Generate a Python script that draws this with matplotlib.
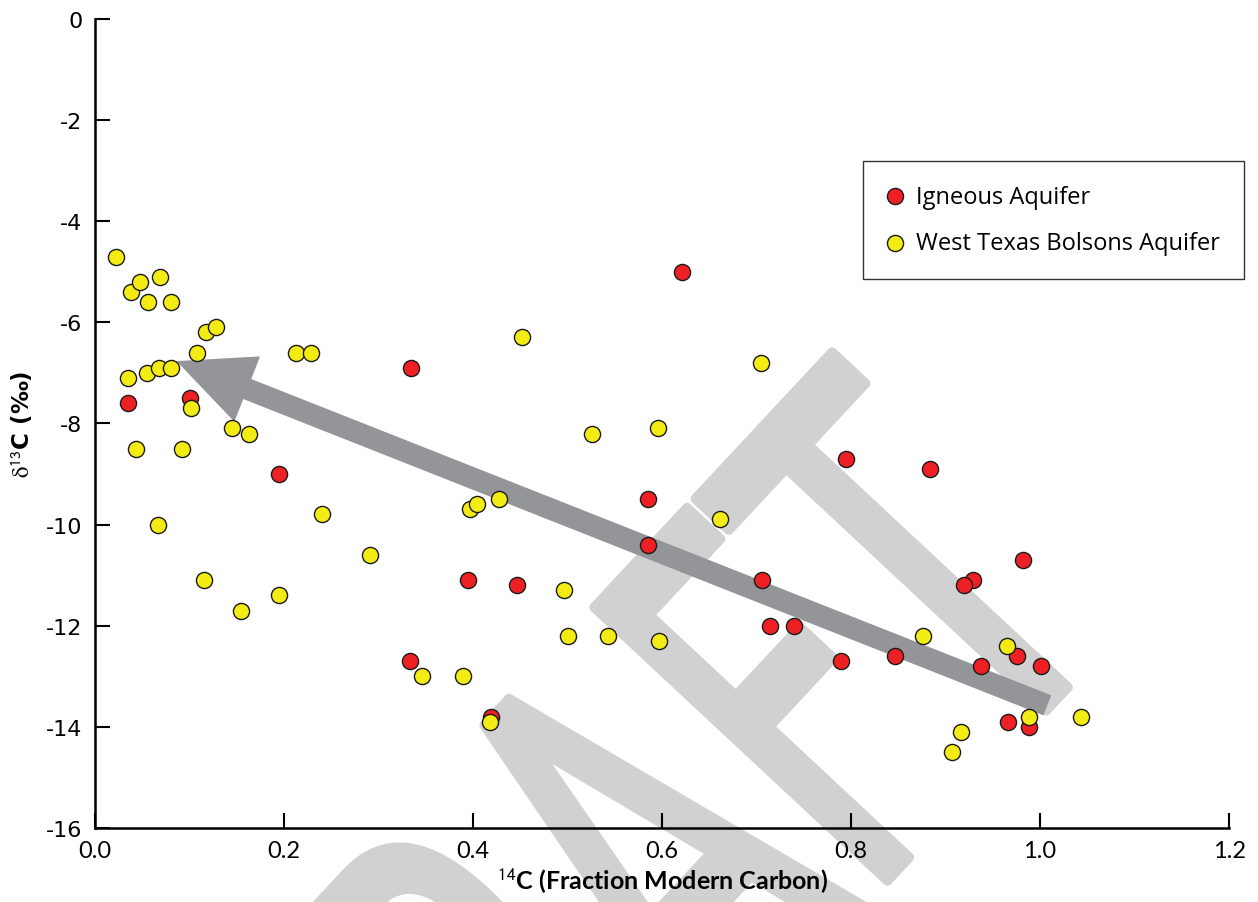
import matplotlib
matplotlib.use('Agg')
import matplotlib.pyplot as plt
import numpy as np
from matplotlib.font_manager import FontProperties
from matplotlib.patches import PathPatch
from matplotlib.textpath import TextPath
from matplotlib.transforms import Affine2D

# data
igneous_c14 = [0.035, 0.101, 0.195, 0.334, 0.333, 0.395, 0.419, 0.447, 0.585, 0.585,
               0.621, 0.795, 0.884, 0.706, 0.714, 0.740, 0.789, 0.846, 0.938, 0.976,
               1.001, 0.982, 0.929, 0.919, 0.966, 0.988]
igneous_d13c = [-7.6, -7.5, -9.0, -6.9, -12.7, -11.1, -13.8, -11.2, -9.5, -10.4,
                -5.0, -8.7, -8.9, -11.1, -12.0, -12.0, -12.7, -12.6, -12.8, -12.6,
                -12.8, -10.7, -11.1, -11.2, -13.9, -14.0]

bolsons_c14 = [0.022, 0.038, 0.048, 0.056, 0.069, 0.080, 0.035, 0.055, 0.068, 0.080,
               0.108, 0.118, 0.128, 0.102, 0.145, 0.163, 0.043, 0.092, 0.067, 0.115,
               0.154, 0.195, 0.213, 0.229, 0.240, 0.291, 0.346, 0.389, 0.418, 0.397,
               0.404, 0.428, 0.452, 0.526, 0.596, 0.496, 0.500, 0.543, 0.597, 0.705,
               0.661, 0.876, 0.965, 0.988, 1.043, 0.916, 0.907]
bolsons_d13c = [-4.7, -5.4, -5.2, -5.6, -5.1, -5.6, -7.1, -7.0, -6.9, -6.9,
                -6.6, -6.2, -6.1, -7.7, -8.1, -8.2, -8.5, -8.5, -10.0, -11.1,
                -11.7, -11.4, -6.6, -6.6, -9.8, -10.6, -13.0, -13.0, -13.9, -9.7,
                -9.6, -9.5, -6.3, -8.2, -8.1, -11.3, -12.2, -12.2, -12.3, -6.8,
                -9.9, -12.2, -12.4, -13.8, -13.8, -14.1, -14.5]

series_labels = ['Igneous Aquifer', 'West Texas Bolsons Aquifer']
x_ticks = [0.0, 0.2, 0.4, 0.6, 0.8, 1.0, 1.2]
y_ticks = [0, -2, -4, -6, -8, -10, -12, -14, -16]

# trend arrow (tail -> head) in data units
arrow_tail = (1.007, -13.57)
arrow_head = (0.088, -6.78)

plt.rcParams['mathtext.fontset'] = 'stix'

fig = plt.figure(figsize=(12.58, 9.03), dpi=100)
ax = fig.add_axes([0.0755, 0.082, 0.9015, 0.896])
ax.patch.set_alpha(0)

# DRAFT watermark, condensed and rotated, behind everything
wm_font = FontProperties(family='DejaVu Sans')
wm_path = TextPath((0, 0), 'DRAFT', size=1, prop=wm_font)
t_ext = TextPath((0, 0), 'T', size=1, prop=wm_font).get_extents()
stem_x = wm_path.get_extents().x1 - t_ext.width / 2
wm_trans = (Affine2D().translate(-stem_x, 0).scale(325, 550)
            .rotate_deg(47).translate(1057, 903 - 700))
fig.add_artist(PathPatch(wm_path, transform=wm_trans, facecolor='#d1d1d1',
                         edgecolor='#d1d1d1', linewidth=7, joinstyle='round',
                         zorder=-1))

ax.scatter(igneous_c14, igneous_d13c, s=135, c='#ed2024', edgecolors='#1a1a1a',
           linewidths=1, zorder=3, label=series_labels[0])
ax.scatter(bolsons_c14, bolsons_d13c, s=135, c='#f3eb14', edgecolors='#1a1a1a',
           linewidths=1, zorder=3, label=series_labels[1])

ax.annotate('', xy=arrow_head, xytext=arrow_tail,
            arrowprops=dict(arrowstyle='simple,head_length=53,head_width=49,tail_width=14.5',
                            mutation_scale=1, color='#939598', shrinkA=0, shrinkB=0),
            zorder=2)

ax.set_xlim(0, 1.2)
ax.set_ylim(-16, 0)
ax.set_xticks(x_ticks)
ax.set_xticklabels(['%.1f' % v for v in x_ticks], family='Lato', fontsize=17)
ax.set_yticks(y_ticks)
ax.set_yticklabels([str(v) for v in y_ticks], family='DejaVu Sans', fontsize=16)
ax.tick_params(direction='in', length=11, width=1.5, pad=9, colors='black')

for side in ['top', 'right']:
    ax.spines[side].set_visible(False)
for side in ['left', 'bottom']:
    ax.spines[side].set_linewidth(1.8)

ax.set_xlabel(r'$^{\mathsf{14}}$C (Fraction Modern Carbon)', family='Lato',
              fontweight='bold', fontsize=18, labelpad=3)
ax.set_ylabel(r'$\mathrm{\delta}^{\mathsf{13}}$C (‰)', family='DejaVu Sans',
              fontweight='bold', fontsize=16.5, labelpad=8)

leg = ax.legend(loc='upper right', bbox_to_anchor=(1244 / 1258, 1 - 162 / 903),
                bbox_transform=fig.transFigure, borderaxespad=0, fancybox=False,
                framealpha=1, edgecolor='#333333', prop={'family': 'Open Sans', 'size': 17},
                labelspacing=0.95, borderpad=1.0, handletextpad=0.55, handlelength=0.7,
                scatterpoints=1)
leg.get_frame().set_linewidth(1)

plt.savefig('out.png', dpi=100)
